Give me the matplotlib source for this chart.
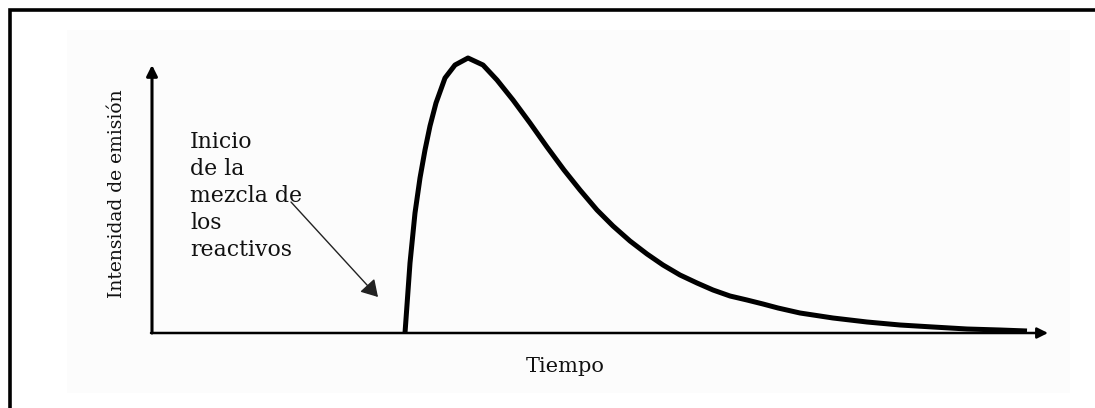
import matplotlib.pyplot as plt
from matplotlib.patches import Rectangle

# Curva de emisión (tiempo, intensidad), unidades arbitrarias
TIEMPO = [2.53, 2.58, 2.63, 2.68, 2.73, 2.78, 2.84, 2.93, 3.03, 3.16, 3.31,
          3.45, 3.61, 3.78, 3.95, 4.12, 4.28, 4.45, 4.61, 4.78, 4.95, 5.11,
          5.28, 5.45, 5.61, 5.78, 5.95, 6.11, 6.26, 6.48, 6.81, 7.15, 7.48,
          7.81, 8.15, 8.48, 8.75]
INTENSIDAD = [0.00, 0.70, 1.20, 1.55, 1.83, 2.07, 2.30, 2.55, 2.68, 2.75, 2.68,
              2.53, 2.33, 2.10, 1.86, 1.63, 1.43, 1.23, 1.07, 0.92, 0.79, 0.68,
              0.58, 0.50, 0.43, 0.37, 0.33, 0.29, 0.25, 0.20, 0.15, 0.11, 0.08,
              0.06, 0.04, 0.03, 0.02]

T_MAX, I_MAX = 8.96, 2.68
NOTA = "Inicio\nde la\nmezcla de\nlos\nreactivos"
NOTA_XY = (1.39, 1.31)      # inicio de la flecha
NOTA_TIP = (2.26, 0.36)     # punta de la flecha

W, H = 1095, 408
fig = plt.figure(figsize=(W / 100, H / 100), dpi=100)
fig.patch.set_facecolor("white")

# fondo tenue y marco exterior
fig.patches.append(Rectangle((67 / W, 1 - 393 / H), (1070 - 67) / W, (393 - 30) / H,
                             transform=fig.transFigure, facecolor="#fcfcfc",
                             edgecolor="none", zorder=0))
fig.patches.append(Rectangle((9.5 / W, -0.2), 1.2, 1.2 - 9.5 / H,
                             transform=fig.transFigure, facecolor="none",
                             edgecolor="black", lw=2.6, zorder=1))

ax = fig.add_axes([152 / W, (H - 333) / H, 896 / W, 268 / H])
ax.set_zorder(3)
ax.set_xlim(0, T_MAX)
ax.set_ylim(0, I_MAX)
ax.axis("off")

# ejes con flecha
ax.annotate("", xy=(0, I_MAX), xytext=(0, 0),
            arrowprops=dict(arrowstyle="-|>", lw=2.2, color="black",
                            mutation_scale=16, shrinkA=0, shrinkB=0))
ax.annotate("", xy=(T_MAX, 0), xytext=(-0.01, 0),
            arrowprops=dict(arrowstyle="-|>", lw=1.8, color="black",
                            mutation_scale=16, shrinkA=0, shrinkB=0))

ax.plot(TIEMPO, INTENSIDAD, color="black", lw=3.6, solid_capstyle="butt",
        solid_joinstyle="round", clip_on=False)

serif = ["DejaVu Serif"]
ax.text(0.38, 2.02, NOTA, family=serif, fontsize=15.8, color="#111111",
        va="top", ha="left", linespacing=1.30)
ax.annotate("", xy=NOTA_TIP, xytext=NOTA_XY,
            arrowprops=dict(arrowstyle="-|>,head_length=0.5,head_width=0.3",
                            lw=1.0, color="#222222", mutation_scale=20,
                            shrinkA=0, shrinkB=0))

fig.text(117 / W, 1 - 194 / H, "Intensidad de emisión", family=serif,
         fontsize=13.5, rotation=90, ha="center", va="center", color="#111111")
fig.text(565 / W, 1 - 366 / H, "Tiempo", family=serif, fontsize=15,
         ha="center", va="center", color="#111111")

fig.savefig("out.png", dpi=100)
